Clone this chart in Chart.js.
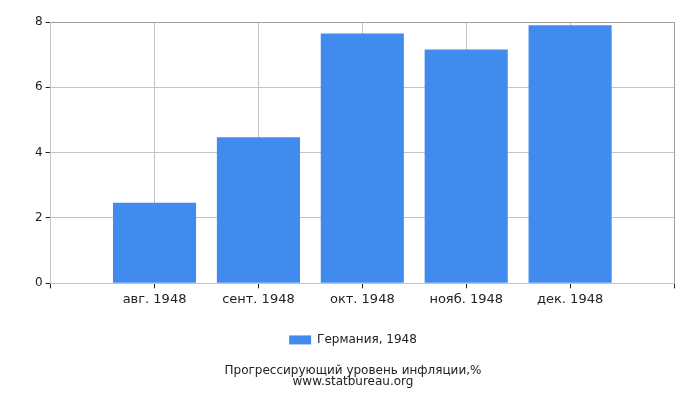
<!DOCTYPE html>
<html>
<head>
<meta charset="utf-8">
<script src="https://cdn.jsdelivr.net/npm/chart.js@4"></script>
<style>
  html, body { margin: 0; padding: 0; background: #fff; }
  #wrap { width: 700px; height: 400px; }
</style>
</head>
<body>
<div id="wrap"><canvas id="inflationChart"></canvas></div>
<script>
// Inflation by month, Germany 1948
const months = ['авг. 1948', 'сент. 1948', 'окт. 1948', 'нояб. 1948', 'дек. 1948'];
const inflation = [2.47, 4.47, 7.65, 7.16, 7.9];
const yTicks = [0, 2, 4, 6, 8];
const seriesName = 'Германия, 1948';
const titleLines = ['Прогрессирующий уровень инфляции,%', 'www.statbureau.org'];

// empty slot on each side, like the original
const labels = [''].concat(months, ['']);
const values = [null].concat(inflation, [null]);

const barColor = '#418bef';
const gridColor = '#c4c4c4';
const edgeColor = '#a0a0a0';

Chart.defaults.font.family = '"DejaVu Sans", Verdana, sans-serif';
Chart.defaults.color = '#222';

const ctx = document.getElementById('inflationChart');
new Chart(ctx, {
    type: 'bar',
    data: {
        labels: labels,
        datasets: [{
            label: seriesName,
            data: values,
            backgroundColor: barColor,
            borderWidth: 0,
            barPercentage: 1,
            categoryPercentage: 0.8
        }]
    },
    options: {
        responsive: true,
        maintainAspectRatio: false,
        animation: false,
        layout: {
            padding: { left: 32, right: 26, top: 22, bottom: 13 }
        },
        plugins: {
            legend: {
                position: 'bottom',
                labels: {
                    boxWidth: 22,
                    boxHeight: 9,
                    font: { size: 12 },
                    padding: 22
                }
            },
            title: {
                display: true,
                position: 'bottom',
                text: titleLines,
                font: { size: 12, weight: 'normal', lineHeight: 0.92 },
                padding: { top: 9, bottom: 0 }
            },
            tooltip: { enabled: false }
        },
        scales: {
            x: {
                offset: false,
                grid: {
                    offset: false,
                    color: (c) => c.index === labels.length - 1 ? edgeColor : gridColor,
                    tickColor: '#222',
                    tickLength: 5
                },
                border: { color: gridColor },
                ticks: {
                    font: { size: 13 },
                    padding: 4,
                    autoSkip: false,
                    maxRotation: 0
                }
            },
            y: {
                min: 0,
                max: 8,
                afterBuildTicks: (axis) => {
                    axis.ticks = yTicks.map(v => ({ value: v }));
                },
                grid: {
                    color: (c) => c.tick && c.tick.value === 8 ? edgeColor : gridColor,
                    tickColor: '#222',
                    tickLength: 5
                },
                border: { color: gridColor },
                ticks: {
                    font: { size: 12 },
                    padding: 3
                }
            }
        }
    }
});
</script>
</body>
</html>
